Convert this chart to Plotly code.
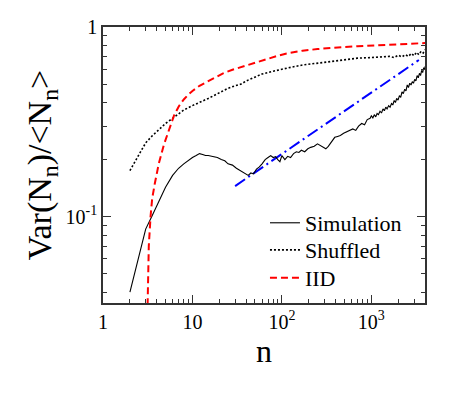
import plotly.graph_objects as go

# ---- data ----
sim_n = [2, 2.5, 3, 3.5, 4, 5, 6, 7, 8, 9, 10, 11, 12, 13, 14, 15, 17, 19, 21, 23, 25, 28, 31, 34, 37, 40, 42,
         45, 48, 52, 56, 60, 65, 70, 75, 80, 85, 90, 95, 100, 108, 116, 125, 135, 145, 155, 165, 180, 195, 210,
         230, 250, 270, 290, 310, 330, 360, 390, 420, 450, 490, 530, 570, 620, 670, 720, 780, 840, 900, 970,
         1000, 1040, 1080, 1120, 1160, 1200, 1250, 1300, 1350, 1400, 1450, 1500, 1560, 1620, 1680, 1740, 1800,
         1860, 1920, 1990, 2060, 2130, 2200, 2280, 2360, 2440, 2520, 2600, 2690, 2780, 2870, 2960, 3050, 3150,
         3250, 3350, 3450, 3550, 3650, 3750, 3850, 3950, 4000]
sim_v = [0.04, 0.062, 0.086, 0.1, 0.115, 0.143, 0.165, 0.18, 0.19, 0.198, 0.205, 0.21, 0.215, 0.213, 0.21,
         0.21, 0.207, 0.205, 0.2, 0.197, 0.19, 0.187, 0.18, 0.175, 0.17, 0.167, 0.165, 0.17, 0.168, 0.178, 0.183,
         0.19, 0.2, 0.205, 0.21, 0.205, 0.207, 0.2, 0.195, 0.21, 0.2, 0.208, 0.205, 0.215, 0.22, 0.218, 0.224,
         0.22, 0.228, 0.232, 0.235, 0.242, 0.236, 0.232, 0.228, 0.235, 0.25, 0.262, 0.265, 0.268, 0.275, 0.28,
         0.285, 0.29, 0.285, 0.3, 0.31, 0.305, 0.325, 0.33,
         0.34, 0.332, 0.345, 0.336, 0.35, 0.345, 0.36, 0.352, 0.37, 0.362, 0.378, 0.37, 0.385, 0.378, 0.395,
         0.388, 0.41, 0.4, 0.42, 0.412, 0.435, 0.425, 0.455, 0.445, 0.47, 0.46, 0.495, 0.48, 0.505, 0.495, 0.515,
         0.505, 0.53, 0.52, 0.555, 0.54, 0.57, 0.555, 0.59, 0.575, 0.61, 0.595, 0.62]

shuf_n = [2, 2.5, 3, 3.5, 4, 5, 6, 7, 8, 10, 12, 15, 20, 25, 30, 35, 40, 50, 60, 80, 100, 130, 170, 220, 300,
          400, 500, 700, 1000, 1300, 1600, 1800, 2000, 2200, 2400, 2600, 2800, 3000, 3200, 3400, 3600, 3800, 4000]
shuf_v = [0.175, 0.21, 0.245, 0.265, 0.28, 0.31, 0.33, 0.35, 0.365, 0.385, 0.4, 0.42, 0.45, 0.475, 0.49, 0.5,
          0.52, 0.545, 0.565, 0.585, 0.6, 0.615, 0.63, 0.64, 0.655, 0.665, 0.675, 0.685, 0.69, 0.695, 0.7, 0.69,
          0.71, 0.695, 0.715, 0.7, 0.725, 0.705, 0.735, 0.715, 0.745, 0.73, 0.76]

iid_n = [3.08, 3.15, 3.25, 3.4, 3.55, 3.8, 4.2, 4.8, 5.5, 6.2, 7, 8, 9, 10, 12, 14.5, 18, 22, 28, 35, 47, 65,
         90, 113, 170, 250, 343, 500, 700, 960, 1500, 2200, 3000, 4000]
iid_v = [0.02, 0.04, 0.07, 0.1, 0.125, 0.15, 0.19, 0.24, 0.29, 0.34, 0.38, 0.415, 0.44, 0.46, 0.49, 0.515, 0.545,
         0.57, 0.595, 0.615, 0.645, 0.675, 0.705, 0.725, 0.75, 0.765, 0.776, 0.785, 0.792, 0.798, 0.805, 0.812,
         0.818, 0.823]

fit_n = [30, 3400]
fit_v = [0.145, 0.67]

x_tickvals = [1, 10, 100, 1000]
x_ticktext = ["1", "10", "10<sup>2</sup>", "10<sup>3</sup>"]
y_tickvals = [0.1, 1]
y_ticktext = ["10<sup>-1</sup>", "1"]

FONT = "Times New Roman, Liberation Serif, serif"

fig = go.Figure()
fig.add_trace(go.Scatter(x=fit_n, y=fit_v, mode="lines", showlegend=False,
                         line=dict(color="#0000ff", width=2, dash="12px,4px,2px,4px")))
fig.add_trace(go.Scatter(x=sim_n, y=sim_v, mode="lines", name="Simulation", legend="legend",
                         line=dict(color="black", width=1.1)))
fig.add_trace(go.Scatter(x=shuf_n, y=shuf_v, mode="lines", name="Shuffled", legend="legend2",
                         line=dict(color="black", width=1.6, dash="2px,2px")))
fig.add_trace(go.Scatter(x=iid_n, y=iid_v, mode="lines", name="IID", legend="legend3",
                         line=dict(color="#ff0000", width=2, dash="7px,4px")))

axis_common = dict(type="log", showgrid=False, zeroline=False, showline=True, linecolor="#333",
                   linewidth=1.5, mirror="ticks", ticks="inside", ticklen=8, tickcolor="#333",
                   tickwidth=1.2, automargin=False,
                   tickfont=dict(family=FONT, size=20, color="black"))

fig.update_xaxes(**axis_common, range=[0, 3.6], tickvals=x_tickvals, ticktext=x_ticktext,
                 minor=dict(ticks="inside", ticklen=4, tickcolor="#333", tickwidth=1, dtick="D1"),
                 title=dict(text="n", font=dict(family=FONT, size=32, color="black"), standoff=0))
fig.update_yaxes(**axis_common, range=[-1.455, 0], tickvals=y_tickvals, ticktext=y_ticktext,
                 minor=dict(ticks="inside", ticklen=4, tickcolor="#333", tickwidth=1, dtick="D1"),
                 title=dict(text="Var(N<sub>n</sub>)/&lt;N<sub>n</sub>&gt;",
                            font=dict(family=FONT, size=34, color="black"), standoff=4))

leg = dict(x=0.503, xanchor="left", yanchor="top", bgcolor="rgba(0,0,0,0)",
           font=dict(family=FONT, size=22, color="black"))

fig.update_layout(
    width=455, height=389,
    margin=dict(l=95, r=38, t=19, b=94),
    paper_bgcolor="white", plot_bgcolor="white",
    font=dict(family=FONT, color="black"),
    legend=dict(**leg, y=0.366),
    legend2=dict(**leg, y=0.268),
    legend3=dict(**leg, y=0.167),
)

fig.write_html("out.html")
